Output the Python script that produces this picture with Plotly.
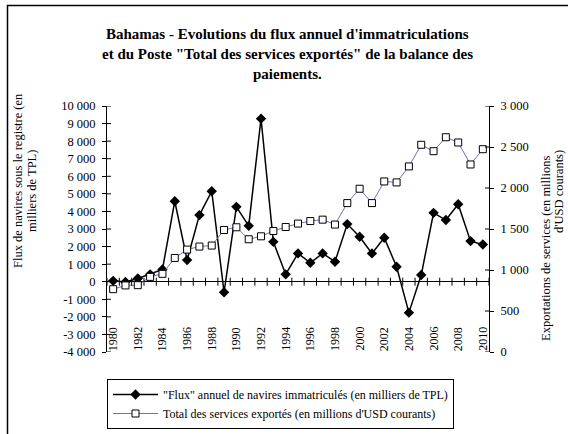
import plotly.graph_objects as go

# Years on the category axis
years = list(range(1980, 2011))

# Annual flow of ships entered in the registry (thousand dwt) - left axis
flux = [50, -20, 180, 420, 700, 4580, 1230, 3790, 5150, -600,
        4260, 3180, 9280, 2270, 420, 1610, 1080, 1610, 1140, 3280,
        2560, 1610, 2500, 850, -1760, 380, 3920, 3510, 4410, 2310, 2120]

# Total exported services (million current USD) - right axis
exports = [766, 812, 815, 916, 953, 1147, 1249, 1286, 1298, 1488,
           1521, 1375, 1411, 1476, 1524, 1566, 1597, 1614, 1554, 1816,
           1991, 1816, 2080, 2068, 2263, 2527, 2449, 2619, 2555, 2287, 2473]

left_ticks = list(range(-4000, 10001, 1000))
left_labels = ["-4 000", "-3 000", "-2 000", "-1 000", "0", "1 000", "2 000",
               "3 000", "4 000", "5 000", "6 000", "7 000", "8 000", "9 000", "10 000"]
right_ticks = [0, 500, 1000, 1500, 2000, 2500, 3000]
right_labels = ["0", "500", "1 000", "1 500", "2 000", "2 500", "3 000"]
year_labels = [str(y) for y in years[::2]]

title_lines = [
    "Bahamas - Evolutions du flux annuel d'immatriculations",
    "et du Poste \"Total des services exportés\" de la balance des",
    "paiements.",
]
name_flux = "\"Flux\" annuel de navires immatriculés (en milliers de TPL)"
name_exp = "Total des services exportés (en millions d'USD courants)"

FONT = "Liberation Serif"
W, H = 568, 434
L, R, T, B = 107, 79, 106, 82
PW, PH = W - L - R, H - T - B
Y1 = (-4000, 10000)
Y2 = (0, 3000)


def px_x(px):
    return (px - L) / PW


def px_y(py):
    return (H - B - py) / PH


fig = go.Figure()
fig.add_trace(go.Scatter(
    x=years, y=flux, name=name_flux, mode="lines+markers",
    line=dict(color="black", width=1.5),
    marker=dict(symbol="diamond", size=8, color="black"),
))
fig.add_trace(go.Scatter(
    x=years, y=exports, name=name_exp, mode="lines+markers", yaxis="y2",
    line=dict(color="#6f6fc6", width=1),
    marker=dict(symbol="square", size=7, color="white",
                line=dict(color="black", width=1)),
))

shapes = []
# outer frame (top and left edges visible)
shapes.append(dict(type="rect", xref="paper", yref="paper",
                   x0=px_x(7.5), x1=px_x(W + 20), y0=px_y(H + 20), y1=px_y(5.5),
                   line=dict(color="black", width=1.5), layer="below"))
# category tick marks crossing the horizontal axis at zero
half = 4 * (Y1[1] - Y1[0]) / PH
for k in range(len(years) + 1):
    xb = years[0] - 0.5 + k
    shapes.append(dict(type="line", xref="x", yref="y", x0=xb, x1=xb,
                       y0=-half, y1=half, line=dict(color="black", width=1)))
# inner halves of the value-axis ticks
for v in left_ticks:
    shapes.append(dict(type="line", xref="paper", yref="y", x0=0, x1=4 / PW,
                       y0=v, y1=v, line=dict(color="black", width=1)))
for v in right_ticks:
    shapes.append(dict(type="line", xref="paper", yref="y2", x0=1 - 4 / PW, x1=1,
                       y0=v, y1=v, line=dict(color="black", width=1)))

annotations = []
for i, txt in enumerate(title_lines):
    annotations.append(dict(text="<b>" + txt + "</b>", xref="paper", yref="paper",
                            x=px_x(287), y=px_y(34 + 20 * i), showarrow=False,
                            xanchor="center", yanchor="middle",
                            font=dict(family=FONT, size=15, color="black")))
for lab in year_labels:
    annotations.append(dict(text=lab, xref="x", yref="paper", x=int(lab), y=0,
                            textangle=-90, showarrow=False, xanchor="center",
                            yanchor="bottom", borderpad=0,
                            font=dict(family=FONT, size=12, color="black")))
axis_titles = [
    ("Flux de navires sous le registre (en", 18, 181),
    ("milliers de TPL)", 32, 191),
    ("Exportations de services (en millions", 546, 248),
    ("d'USD courants)", 559, 192),
]
for txt, ax, ay in axis_titles:
    annotations.append(dict(text=txt, xref="paper", yref="paper",
                            x=px_x(ax), y=px_y(ay), textangle=-90, showarrow=False,
                            xanchor="center", yanchor="middle",
                            font=dict(family=FONT, size=12.5, color="black")))

fig.update_layout(
    width=W, height=H,
    margin=dict(l=L, r=R, t=T, b=B, pad=0, autoexpand=False),
    paper_bgcolor="white", plot_bgcolor="white",
    font=dict(family=FONT, size=12, color="black"),
    showlegend=True,
    legend=dict(x=0, y=px_y(379), xanchor="left", yanchor="top",
                bordercolor="black", borderwidth=1, bgcolor="white",
                font=dict(family=FONT, size=12, color="black"),
                itemwidth=45, tracegroupgap=0),
    xaxis=dict(range=[years[0] - 0.5, years[-1] + 0.5], showgrid=False,
               showline=False, zeroline=False, showticklabels=False, ticks=""),
    yaxis=dict(range=list(Y1), tickvals=left_ticks, ticktext=left_labels,
               showgrid=False, showline=True, linecolor="black", linewidth=1,
               ticks="outside", ticklen=4, tickcolor="black",
               ticklabelstandoff=4,
               zeroline=True, zerolinecolor="black", zerolinewidth=1,
               tickfont=dict(family=FONT, size=12.5)),
    yaxis2=dict(range=list(Y2), tickvals=right_ticks, ticktext=right_labels,
                overlaying="y", side="right", showgrid=False, zeroline=False,
                showline=True, linecolor="black", linewidth=1,
                ticks="outside", ticklen=4, tickcolor="black",
                ticklabelstandoff=4,
                tickfont=dict(family=FONT, size=12.5)),
    shapes=shapes,
    annotations=annotations,
)

fig.write_html("out.html")
